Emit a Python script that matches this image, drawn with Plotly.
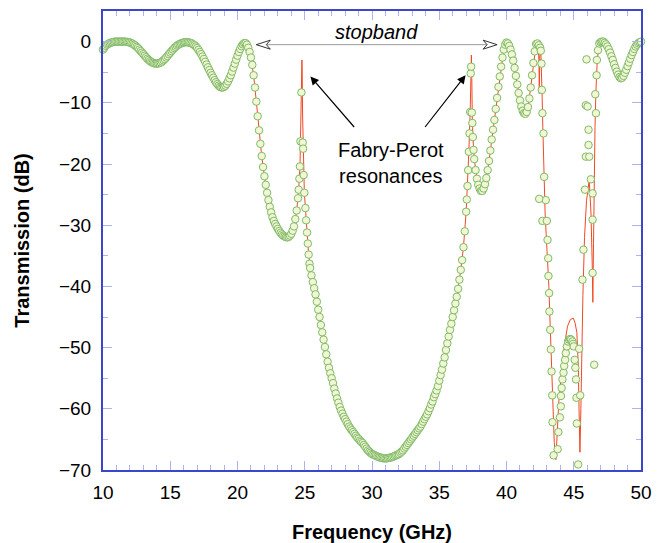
import plotly.graph_objects as go

# ---------------- measured data (circles) ----------------
meas_freq_a = [10.0, 10.1, 10.2, 10.3, 10.4, 10.5, 10.6, 10.7, 10.8, 10.9,
               11.0, 11.1, 11.2, 11.3, 11.4, 11.5, 11.6, 11.7, 11.8, 11.9,
               12.0, 12.1, 12.2, 12.3, 12.4, 12.5, 12.6, 12.7, 12.8, 12.9,
               13.0, 13.1, 13.2, 13.3, 13.4, 13.5, 13.6, 13.7, 13.8, 13.9,
               14.0, 14.1, 14.2, 14.3, 14.4, 14.5, 14.6, 14.7, 14.8, 14.9,
               15.0, 15.1, 15.2, 15.3, 15.4, 15.5, 15.6, 15.7, 15.8, 15.9,
               16.0, 16.1, 16.2, 16.3, 16.4, 16.5, 16.6, 16.7, 16.8, 16.9,
               17.0, 17.1, 17.2, 17.3, 17.4, 17.5, 17.6, 17.7, 17.8, 17.9,
               18.0, 18.1, 18.2, 18.3, 18.4, 18.5, 18.6, 18.7, 18.8, 18.9,
               19.0, 19.1, 19.2, 19.3, 19.4, 19.5, 19.6, 19.7, 19.8, 19.9,
               20.0, 20.1, 20.2, 20.3, 20.4, 20.5, 20.6, 20.7, 20.8, 20.9]
meas_db_a = [-1.3, -1.0, -0.7, -0.5, -0.35, -0.25, -0.15, -0.1, -0.05, 0.0,
             0.0, 0.0, 0.0, 0.0, 0.0, 0.0, 0.0, -0.02, -0.05, -0.1,
             -0.15, -0.25, -0.35, -0.5, -0.65, -0.85, -1.05, -1.3, -1.55, -1.8,
             -2.05, -2.3, -2.55, -2.8, -3.0, -3.2, -3.35, -3.45, -3.55, -3.6,
             -3.6, -3.55, -3.5, -3.4, -3.25, -3.05, -2.85, -2.6, -2.35, -2.05,
             -1.8, -1.55, -1.3, -1.05, -0.85, -0.65, -0.5, -0.4, -0.3, -0.2,
             -0.15, -0.1, -0.1, -0.1, -0.15, -0.2, -0.3, -0.45, -0.6, -0.8,
             -1.05, -1.35, -1.7, -2.05, -2.45, -2.85, -3.3, -3.75, -4.2, -4.65,
             -5.1, -5.5, -5.9, -6.3, -6.65, -6.95, -7.2, -7.4, -7.5, -7.5,
             -7.4, -7.2, -6.9, -6.5, -6.0, -5.5, -4.9, -4.25, -3.6, -2.95,
             -2.3, -1.7, -1.2, -0.75, -0.45, -0.25, -0.25, -0.5, -1.0, -1.7]

meas_freq_b = [21.0, 21.1, 21.2, 21.3, 21.4, 21.5, 21.6, 21.7, 21.8, 21.9,
               22.0, 22.1, 22.2, 22.3, 22.4, 22.5, 22.6, 22.7, 22.8, 22.9,
               23.0, 23.1, 23.2, 23.3, 23.4, 23.5, 23.6, 23.7, 23.8, 23.9,
               24.0, 24.1, 24.2, 24.3, 24.4, 24.5, 24.55, 24.6, 24.64, 24.68,
               24.75, 24.85, 24.88, 24.92, 24.97, 25.05, 25.1, 25.17, 25.23, 25.29,
               25.35]
meas_db_b = [-2.6, -3.8, -5.5, -7.5, -9.8, -12.2, -14.5, -16.7, -18.7, -20.5,
             -22.0, -23.4, -24.7, -25.9, -27.0, -27.9, -28.7, -29.3, -29.8, -30.2,
             -30.6, -30.95, -31.25, -31.5, -31.7, -31.85, -31.95, -32.0, -31.9, -31.7,
             -31.4, -30.9, -30.2, -29.0, -27.6, -25.6, -24.2, -22.4, -20.4, -16.3,
             -8.3, -16.5, -17.5, -21.8, -24.7, -27.2, -29.2, -31.2, -33.0, -34.8,
             -36.3]

meas_freq_c = [25.4, 25.5, 25.6, 25.7, 25.8, 25.9, 26.0, 26.1, 26.2, 26.3,
               26.4, 26.5, 26.6, 26.7, 26.8, 26.9, 27.0, 27.1, 27.2, 27.3,
               27.4, 27.5, 27.6, 27.7, 27.8, 27.9, 28.0, 28.1, 28.2, 28.3,
               28.4, 28.5, 28.6, 28.7, 28.8, 28.9, 29.0, 29.1, 29.2, 29.3,
               29.4, 29.5, 29.6, 29.7, 29.8, 29.9, 30.0, 30.1, 30.2, 30.3,
               30.4, 30.5, 30.6, 30.7, 30.8, 30.9, 31.0, 31.1, 31.2, 31.3,
               31.4, 31.5, 31.6, 31.7, 31.8, 31.9, 32.0, 32.1, 32.2, 32.3,
               32.4, 32.5, 32.6, 32.7, 32.8, 32.9, 33.0, 33.1, 33.2, 33.3,
               33.4, 33.5, 33.6, 33.7, 33.8, 33.9, 34.0, 34.1, 34.2, 34.3,
               34.4, 34.5, 34.6, 34.7, 34.8, 34.9, 35.0, 35.1, 35.2, 35.3,
               35.4, 35.5, 35.6, 35.7, 35.8, 35.9, 36.0, 36.1, 36.2, 36.3,
               36.4, 36.5, 36.6, 36.7]
meas_db_c = [-37.0, -38.2, -39.3, -40.3, -41.3, -42.5, -43.8, -45.0, -46.3, -47.5,
             -48.7, -49.9, -51.1, -52.3, -53.3, -54.2, -55.0, -55.8, -56.7, -57.5,
             -58.3, -59.0, -59.7, -60.3, -60.8, -61.3, -61.7, -62.1, -62.5, -62.9,
             -63.2, -63.5, -63.8, -64.1, -64.4, -64.7, -64.9, -65.2, -65.4, -65.6,
             -65.9, -66.2, -66.5, -66.8, -67.0, -67.2, -67.4, -67.5, -67.6, -67.7,
             -67.8, -67.9, -67.95, -68.0, -68.05, -68.1, -68.1, -68.1, -68.05, -68.0,
             -67.95, -67.9, -67.8, -67.7, -67.6, -67.5, -67.4, -67.2, -67.0, -66.8,
             -66.5, -66.2, -65.9, -65.6, -65.3, -65.0, -64.7, -64.4, -64.1, -63.8,
             -63.5, -63.2, -62.9, -62.5, -62.1, -61.7, -61.3, -60.9, -60.4, -59.9,
             -59.3, -58.8, -58.1, -57.6, -57.0, -56.3, -55.4, -54.5, -53.6, -52.6,
             -51.6, -50.4, -49.3, -48.2, -47.1, -46.1, -45.0, -43.9, -42.8, -41.7,
             -40.4, -38.9, -37.3, -35.7]

meas_freq_d = [36.8, 36.9, 37.0, 37.05, 37.1, 37.15, 37.2, 37.25, 37.3, 37.34,
               37.37, 37.42, 37.46, 37.5, 37.55, 37.6, 37.7, 37.8, 37.9, 38.0,
               38.1, 38.2, 38.3, 38.4, 38.5, 38.6, 38.7, 38.8, 38.9, 39.0,
               39.1, 39.2, 39.3, 39.4, 39.5, 39.6, 39.7, 39.8, 39.9, 40.0,
               40.1, 40.2, 40.3, 40.4, 40.5, 40.6, 40.7, 40.8, 40.9, 41.0,
               41.1, 41.2, 41.3, 41.4, 41.5, 41.6, 41.7, 41.8, 41.9, 42.0,
               42.1, 42.2, 42.3, 42.4, 42.5, 42.55]
meas_db_d = [-33.6, -31.0, -27.8, -25.8, -23.6, -21.0, -18.0, -15.0, -11.5, -5.2,
             -4.1, -11.6, -13.3, -15.6, -17.7, -19.2, -21.0, -22.4, -23.4, -24.0,
             -24.4, -24.4, -24.0, -23.3, -22.3, -21.0, -19.5, -17.8, -16.0, -14.4,
             -12.8, -11.0, -9.2, -7.4, -5.7, -4.1, -2.6, -1.3, -0.5, -0.15,
             -0.3, -0.7, -1.3, -2.1, -3.1, -4.3, -5.6, -7.0, -8.4, -9.6,
             -10.6, -11.3, -11.7, -11.8, -11.5, -10.7, -9.3, -7.5, -5.5, -3.5,
             -1.6, -0.4, -0.3, -0.6, -1.0, -1.5]

# scattered measurement points in the upper band (42.6 - 47 GHz)
meas_freq_e = [42.6, 42.63, 42.67, 42.75, 42.8, 42.92, 42.43, 42.67, 43.0, 43.05,
               43.1, 43.12, 43.17, 43.19, 43.25, 43.3, 43.35, 43.4, 43.42, 43.5,
               43.8, 43.86, 43.97, 44.04, 44.05, 44.1, 44.16, 44.24, 44.29, 44.36,
               44.41, 44.49, 44.58, 44.65, 44.73, 44.8, 44.9, 44.95, 45.0, 45.07,
               45.12, 45.17, 45.2, 45.23, 45.33, 45.4, 45.48, 45.65, 45.72, 45.83,
               45.9, 45.95, 45.9, 46.03, 46.1, 46.1, 46.15, 46.27, 46.4, 46.4,
               46.4, 46.52, 46.6, 46.65, 46.7, 46.72, 46.8, 46.9, 47.0]
meas_db_e = [-3.6, -7.9, -11.7, -15.0, -22.1, -25.9, -25.7, -29.3, -29.3, -32.4,
             -35.4, -38.3, -41.1, -44.1, -47.1, -50.3, -53.9, -57.8, -62.2, -67.6,
             -66.6, -63.8, -61.4, -59.6, -57.9, -56.6, -55.2, -54.1, -53.0, -52.0,
             -50.9, -49.8, -49.0, -48.7, -48.6, -48.7, -49.0, -49.4, -49.8, -52.0,
             -53.3, -55.2, -58.2, -62.4, -69.1, -50.2, -57.8, -38.9, -34.0, -24.2,
             -18.8, -2.9, -10.4, -10.6, -14.4, -16.9, -18.8, -22.5, -24.8, -29.1,
             -37.8, -52.8, -8.6, -11.7, -5.5, -3.0, -1.4, -0.3, -0.1]

meas_freq_f = [47.1, 47.2, 47.3, 47.4, 47.5, 47.6, 47.7, 47.8, 47.9, 48.0,
               48.1, 48.2, 48.3, 48.4, 48.5, 48.6, 48.7, 48.8, 48.9, 49.0,
               49.1, 49.2, 49.3, 49.4, 49.5, 49.6, 49.7, 49.8, 49.9, 50.0]
meas_db_f = [0.0, 0.0, -0.2, -0.45, -0.8, -1.25, -1.8, -2.4, -3.0, -3.7,
             -4.3, -4.9, -5.4, -5.8, -6.0, -5.9, -5.6, -5.1, -4.6, -4.0,
             -3.4, -2.8, -2.2, -1.7, -1.2, -0.8, -0.5, -0.25, -0.1, 0.0]

# ---------------- simulated data (red line) ----------------
sim_freq = [10.0, 10.5, 11.0, 11.5, 12.0, 12.5, 13.0, 13.5, 14.0, 14.5,
            15.0, 15.5, 16.0, 16.5, 17.0, 17.5, 18.0, 18.5, 18.8, 19.1,
            19.5, 20.0, 20.3, 20.5, 20.7, 21.0, 21.2, 21.4, 21.6, 21.8,
            22.0, 22.2, 22.4, 22.6, 22.8, 23.0, 23.3, 23.7, 24.0, 24.2,
            24.4, 24.55, 24.65, 24.72, 24.77, 24.79, 24.81, 24.84, 24.9, 24.97,
            25.05, 25.17, 25.29, 25.5, 25.8, 26.1, 26.4, 26.7, 27.0, 27.4,
            27.8, 28.2, 28.6, 29.0, 29.6, 30.2, 31.0, 31.8, 32.4, 33.0,
            33.6, 34.2, 34.6, 35.0, 35.4, 35.7, 36.0, 36.3, 36.6, 36.8,
            37.0, 37.1, 37.2, 37.3, 37.36, 37.39, 37.42, 37.46, 37.55, 37.7,
            37.9, 38.15, 38.4, 38.6, 38.8, 39.0, 39.2, 39.4, 39.6, 39.8,
            40.0, 40.2, 40.4, 40.6, 40.8, 41.0, 41.2, 41.4, 41.6, 41.8,
            42.0, 42.2, 42.35, 42.41, 42.44, 42.47, 42.55, 42.6, 42.65, 42.7,
            42.75, 42.8, 42.87, 42.95, 43.05, 43.15, 43.25, 43.35, 43.45, 43.55,
            43.67, 43.79, 43.9, 44.04, 44.29, 44.54, 44.75, 44.97, 45.1, 45.23,
            45.33, 45.4, 45.46, 45.53, 45.6, 45.68, 45.8, 45.95, 46.15, 46.28,
            46.37, 46.42, 46.47, 46.52, 46.58, 46.65, 46.75, 46.85, 47.0, 47.2,
            47.5, 47.9, 48.3, 48.5, 48.7, 49.0, 49.4, 49.7, 50.0]
sim_db = [-1.3, -0.25, 0.0, 0.0, -0.15, -0.85, -2.05, -3.2, -3.6, -3.05,
          -1.8, -0.65, -0.15, -0.2, -1.05, -2.85, -5.1, -6.95, -7.5, -7.2,
          -5.5, -2.3, -0.75, -0.25, -0.5, -2.6, -5.5, -9.8, -14.5, -18.7,
          -22.0, -24.7, -27.0, -28.7, -29.8, -30.6, -31.5, -32.0, -31.4, -30.2,
          -27.6, -24.2, -20.0, -13.0, -5.0, -3.0, -5.0, -12.0, -19.0, -24.7,
          -27.2, -31.2, -34.8, -38.2, -41.3, -45.0, -48.7, -52.3, -55.0, -58.3,
          -60.8, -62.5, -63.8, -64.9, -66.5, -67.6, -68.1, -67.6, -66.5, -64.7,
          -62.9, -60.4, -58.1, -55.4, -51.6, -48.2, -45.0, -41.7, -37.3, -33.6,
          -27.8, -23.6, -18.0, -11.5, -5.0, -2.2, -6.0, -13.0, -17.7, -21.0,
          -23.4, -24.4, -23.3, -21.0, -17.8, -14.4, -11.0, -7.4, -4.1, -1.3,
          -0.15, -0.7, -2.1, -4.3, -7.0, -9.6, -11.3, -11.8, -10.7, -7.5,
          -3.5, -0.4, -0.6, -3.0, -8.5, -2.5, -1.4, -4.0, -9.0, -14.0,
          -19.0, -24.0, -28.0, -31.5, -35.0, -40.0, -46.5, -53.5, -60.5, -65.5,
          -68.3, -63.4, -58.5, -55.2, -49.8, -46.5, -45.4, -45.2, -46.0, -47.5,
          -52.5, -60.7, -67.1, -60.0, -50.0, -41.5, -32.0, -26.0, -22.6, -28.0,
          -36.0, -42.6, -33.0, -22.0, -14.0, -8.0, -3.0, -1.2, -0.3, 0.0,
          -0.8, -3.0, -5.4, -6.0, -5.6, -4.0, -1.7, -0.5, 0.0]

x_tick_vals = [10, 15, 20, 25, 30, 35, 40, 45, 50]
y_tick_vals = [0, -10, -20, -30, -40, -50, -60, -70]

meas_freq = meas_freq_a + meas_freq_b + meas_freq_c + meas_freq_d + meas_freq_e + meas_freq_f
meas_db = meas_db_a + meas_db_b + meas_db_c + meas_db_d + meas_db_e + meas_db_f
assert len(meas_freq) == len(meas_db), (len(meas_freq), len(meas_db))
assert len(sim_freq) == len(sim_db), (len(sim_freq), len(sim_db))

FONT = "Liberation Sans, Arial, sans-serif"
AXIS_BLUE = "#3c46c8"
TICK_BLUE = "#aeb2ee"

fig = go.Figure()
fig.add_trace(go.Scatter(x=sim_freq, y=sim_db, mode="lines",
                         line=dict(color="#ef4a23", width=1),
                         showlegend=False, hoverinfo="skip"))
fig.add_trace(go.Scatter(x=meas_freq, y=meas_db, mode="markers",
                         marker=dict(symbol="circle", size=7.5, color="#f1f6d4",
                                     line=dict(color="#80ba68", width=1)),
                         cliponaxis=False, showlegend=False))

axis_common = dict(showline=True, linecolor=AXIS_BLUE, linewidth=2, mirror="ticks",
                   ticks="inside", ticklen=9, tickwidth=1, tickcolor=TICK_BLUE,
                   showgrid=False, zeroline=False, automargin=False,
                   tickfont=dict(family=FONT, size=19, color="black"))

fig.update_xaxes(range=[10, 50], tickvals=x_tick_vals,
                 minor=dict(dtick=1, ticks="inside", ticklen=5, tickcolor=TICK_BLUE, tickwidth=1),
                 title=dict(text="<b>Frequency (GHz)</b>", font=dict(family=FONT, size=20, color="black"),
                            standoff=26),
                 ticklabelstandoff=4,
                 **axis_common)
fig.update_yaxes(range=[-70, 5], tickvals=y_tick_vals,
                 minor=dict(dtick=5, ticks="inside", ticklen=5, tickcolor=TICK_BLUE, tickwidth=1),
                 title=dict(text="<b>Transmission (dB)</b>", font=dict(family=FONT, size=20, color="black"),
                            standoff=24),
                 ticklabelstandoff=6,
                 **axis_common)

# stopband double arrow
sb_left, sb_right, sb_y = 21.4, 39.3, -0.5
shapes = [
    dict(type="line", xref="x", yref="y", x0=sb_left, x1=sb_right, y0=sb_y, y1=sb_y,
         line=dict(color="#9a9a9a", width=1)),
    dict(type="path", xref="x", yref="y", xsizemode="pixel", ysizemode="pixel",
         xanchor=sb_left, yanchor=sb_y,
         path="M 0 0 L 14 4.5 L 10 0 L 14 -4.5 Z",
         fillcolor="white", line=dict(color="#333333", width=1)),
    dict(type="path", xref="x", yref="y", xsizemode="pixel", ysizemode="pixel",
         xanchor=sb_right, yanchor=sb_y,
         path="M 0 0 L -14 4.5 L -10 0 L -14 -4.5 Z",
         fillcolor="white", line=dict(color="#333333", width=1)),
]

annotations = [
    dict(x=30.3, y=1.6, xref="x", yref="y", text="<i>stopband</i>", showarrow=False,
         font=dict(family=FONT, size=20, color="black")),
    dict(x=31.4, y=-19.8, xref="x", yref="y", text="Fabry-Perot<br>resonances", showarrow=False,
         font=dict(family=FONT, size=20, color="black")),
    dict(x=25.42, y=-5.7, ax=28.77, ay=-14.2, xref="x", yref="y", axref="x", ayref="y",
         text="", showarrow=True, arrowhead=2, arrowsize=1.4, arrowwidth=1.2, arrowcolor="black"),
    dict(x=36.96, y=-5.5, ax=33.86, ay=-14.2, xref="x", yref="y", axref="x", ayref="y",
         text="", showarrow=True, arrowhead=2, arrowsize=1.4, arrowwidth=1.2, arrowcolor="black"),
]

fig.update_layout(width=665, height=543, margin=dict(l=103, r=24, t=11, b=73, autoexpand=False),
                  paper_bgcolor="white", plot_bgcolor="white",
                  shapes=shapes, annotations=annotations,
                  font=dict(family=FONT, color="black"))

fig.write_html("out.html")
